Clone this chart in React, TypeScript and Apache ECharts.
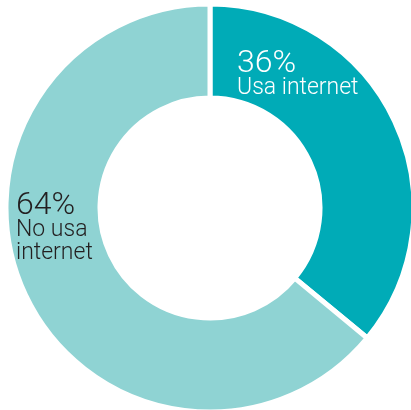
import React, { useEffect, useRef } from "react";
import * as echarts from "echarts";

// Internet use share
const categories = ["Usa internet", "No usa internet"];
const labelLines = ["Usa internet", "No usa\ninternet"];
const values = [36, 64];
const colors = ["#00abb7", "#8fd3d3"];
const textColors = ["#ffffff", "#231f20"];

export default function App() {
  const ref = useRef<HTMLDivElement>(null);

  useEffect(() => {
    if (!ref.current) return;
    const chart = echarts.init(ref.current, undefined, { renderer: "svg" });
    const family = "Roboto, 'Liberation Sans', Arial, sans-serif";
    const richFor = (color: string) => ({
      p: { fontFamily: family, fontWeight: 300, fontSize: 32, lineHeight: 27, fill: color, color },
      l: { fontFamily: family, fontWeight: 300, fontSize: 23, lineHeight: 23, fill: color, color },
    });
    const labelText = (i: number) =>
      `{p|${values[i]}%}\n` +
      labelLines[i]
        .split("\n")
        .map((s) => `{l|${s}}`)
        .join("\n");

    chart.setOption({
      animation: false,
      series: [
        {
          type: "pie",
          center: [210, 208],
          radius: [110, 204],
          startAngle: 90,
          clockwise: true,
          silent: true,
          label: { show: false },
          labelLine: { show: false },
          itemStyle: { borderColor: "#ffffff", borderWidth: 5 },
          data: categories.map((name, i) => ({
            name,
            value: values[i],
            itemStyle: { color: colors[i] },
          })),
        },
      ],
      graphic: [
        {
          type: "text",
          z: 100,
          left: 237,
          top: 45,
          style: {
            text: labelText(0),
            fill: textColors[0],
            rich: richFor(textColors[0]),
          },
        },
        {
          type: "text",
          z: 100,
          left: 16,
          top: 187,
          style: {
            text: labelText(1),
            fill: textColors[1],
            rich: richFor(textColors[1]),
          },
        },
      ],
    });
    return () => chart.dispose();
  }, []);

  return (
    <div
      ref={ref}
      style={{ position: "fixed", left: 0, top: 0, width: 411, height: 410 }}
    />
  );
}
